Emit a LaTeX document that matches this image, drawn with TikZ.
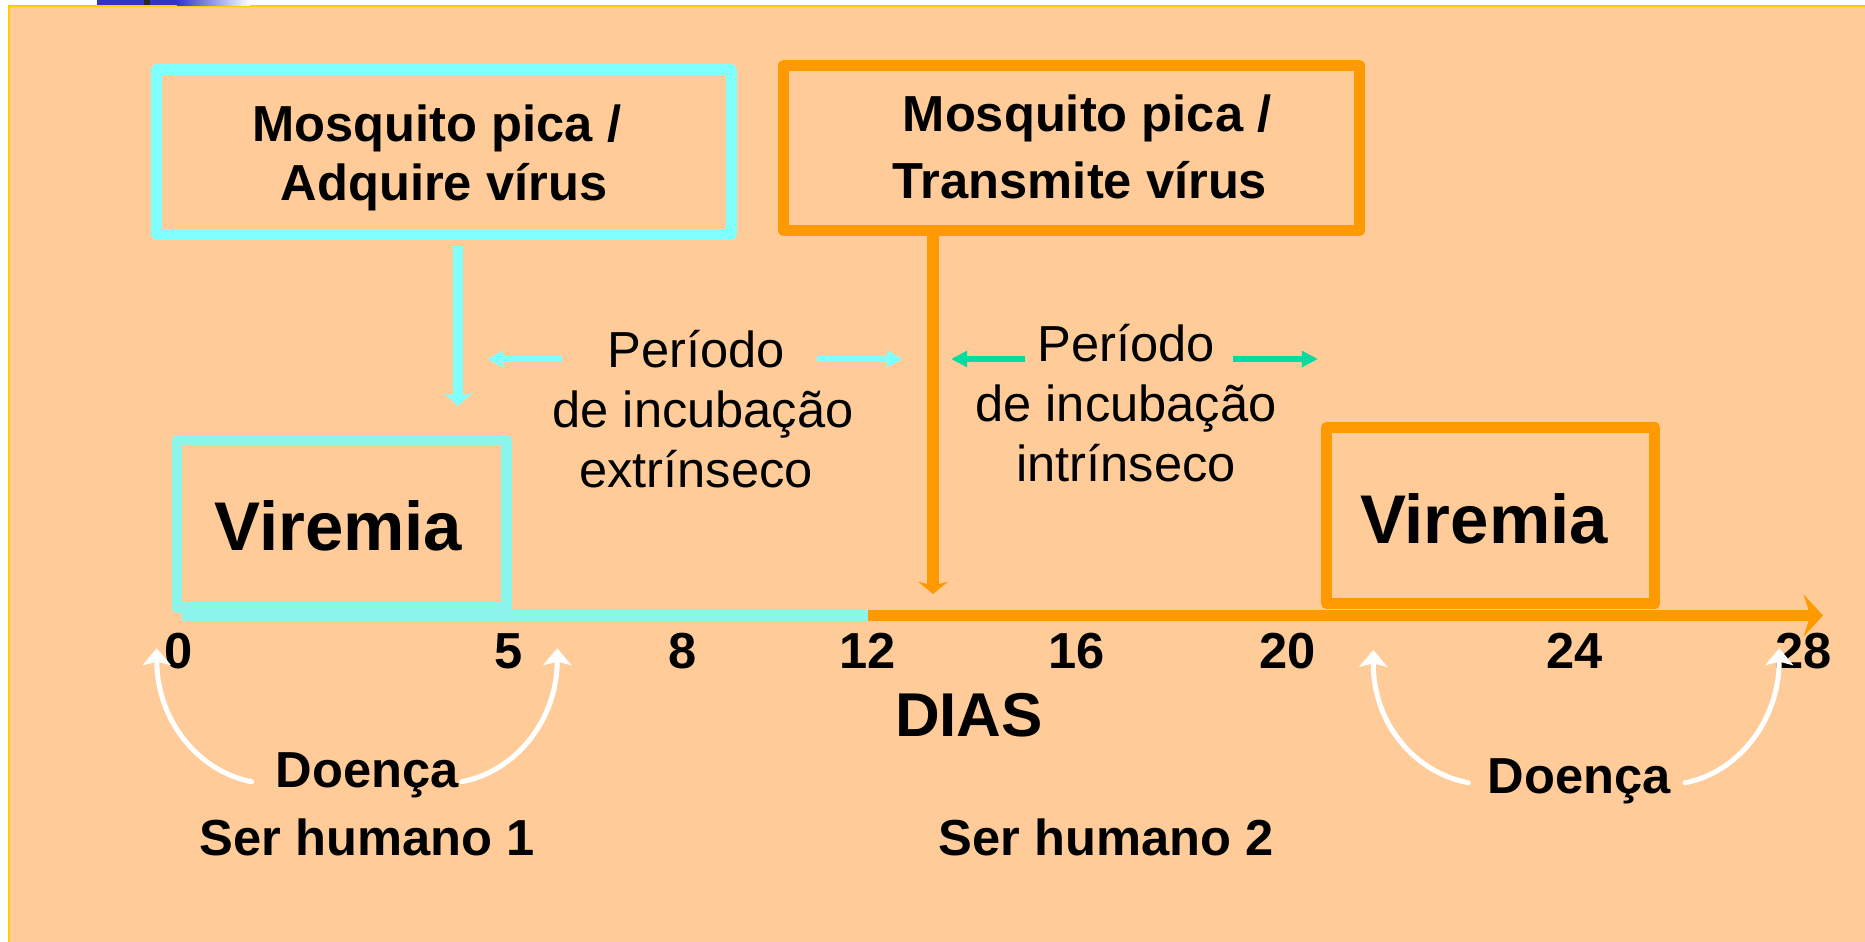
\documentclass[tikz,border=0pt]{standalone}
\usepackage{fontspec}
\setmainfont{Liberation Sans}
\usetikzlibrary{arrows.meta}
\definecolor{peach}{HTML}{FFCC99}
\definecolor{gold}{HTML}{FFCC00}
\definecolor{cyanA}{HTML}{80FFFF}
\definecolor{cyanB}{HTML}{8CF5EB}
\definecolor{orangeA}{HTML}{FF9900}
\definecolor{mint}{HTML}{00DDA0}
\definecolor{slideblue}{HTML}{3333CC}
\newcommand{\rowsof}[1]{\begin{tabular}[t]{@{}c@{}}#1\end{tabular}}
\begin{document}
\begin{tikzpicture}[x=0.01cm,y=-0.01cm,
  box/.style={draw, line width=3.1pt, line join=round, inner sep=0pt},
  bold/.style={font=\fontsize{14.4pt}{16.8pt}\selectfont\bfseries, anchor=base, inner sep=0pt},
  reg/.style={font=\fontsize{14.4pt}{17.07pt}\selectfont, anchor=base, inner sep=0pt},
  big/.style={font=\fontsize{19.6pt}{23pt}\selectfont\bfseries, anchor=base, inner sep=0pt},
  downarrow/.style={line width=2.85pt, -{Stealth[length=3.7pt,width=8pt,inset=1pt]}},
  periodarrow/.style={line width=1.7pt, -{Triangle[length=4.6pt,width=4.4pt]}},
  whitearrow/.style={white, line width=1.42pt, line cap=round, -{Stealth[length=4.8pt,width=8pt,inset=1pt]}},
]
% background
\useasboundingbox (0,0) rectangle (1865,942);
\fill[white] (0,0) rectangle (1865,942);
\fill[peach] (9,6) rectangle (1865,942);
\draw[gold, line width=0.6pt] (9,942) -- (9,6) -- (1865,6);
\fill[slideblue] (97,0) rectangle (177,5);
\shade[left color=slideblue, right color=white] (177,0) rectangle (250,5);
\fill[black!85] (144,0) rectangle (150,5);

% boxes
\node[box, draw=cyanA, minimum width=5.745cm, minimum height=1.645cm] (b1) at (444,152) {};
\node[box, draw=orangeA, minimum width=5.75cm, minimum height=1.647cm] (b2) at (1071.5,147.7) {};
\node[box, draw=cyanB, minimum width=3.297cm, minimum height=1.677cm] (v1) at (341.9,523.9) {};
\node[box, draw=orangeA, minimum width=3.282cm, minimum height=1.757cm] (v2) at (1490.6,515.65) {};

% box texts
\node[bold] (t1) at (444,141.7) {\rowsof{Mosquito pica /\hspace*{.28em}\\Adquire vírus}};
\node[bold, font=\fontsize{14.4pt}{18.95pt}\selectfont\bfseries] (t2) at (1080,131.7) {\rowsof{\hspace*{.28em}Mosquito pica /\\Transmite vírus}};
\node[big] (v1t) at (338.3,550.7) {Viremia};
\node[big] (v2t) at (1484,543.5) {Viremia};

% period texts
\node[reg] (p1) at (696,367) {\rowsof{Período\\\hspace*{.28em}de incubação\\extrínseco}};
\node[reg] (p2) at (1126,361) {\rowsof{Período\\de incubação\\intrínseco}};

% vertical arrows
\coordinate (a1tip) at (458,406);
\coordinate (a2tip) at (933,594);
\draw[downarrow, cyanA] ([yshift=-0.06cm]b1.south -| a1tip) -- (a1tip);
\draw[downarrow, orangeA, line width=3.2pt, -{Stealth[length=3.5pt,width=8.5pt,inset=1.1pt]}] (b2.south -| a2tip) -- (a2tip);

% timeline
\coordinate (t0) at (182,615.5);
\coordinate (t12) at (868,615.5);
\coordinate (tend) at (1823,615.5);
\draw[cyanB, line width=3.13pt] (t0) -- (t12);
\draw[orangeA, line width=2.85pt, -{Stealth[length=5.5pt,width=11.9pt,inset=1.9pt]}] (t12) -- (tend);

% period arrows
\coordinate (pa1s) at (562,359); \coordinate (pa1e) at (487,359);
\coordinate (pa2s) at (817,359); \coordinate (pa2e) at (903,359);
\coordinate (pb1s) at (1025,359); \coordinate (pb1e) at (951,359);
\coordinate (pb2s) at (1233,359); \coordinate (pb2e) at (1318,359);
\draw[periodarrow, cyanA] (pa1s) -- (pa1e);
\draw[periodarrow, cyanA] (pa2s) -- (pa2e);
\draw[periodarrow, mint] (pb1s) -- (pb1e);
\draw[periodarrow, mint] (pb2s) -- (pb2e);

% axis numbers
\foreach \x/\n in {179/0, 508.3/5, 683/8, 868/12, 1077/16, 1288/20, 1574.5/24, 1804/28}
  \node[bold] (n\n) at (\x,668) {\n};
\node[bold, font=\fontsize{17.6pt}{20pt}\selectfont\bfseries] (dias) at (969,736) {DIAS};

% bottom labels
\node[bold] (d1) at (367,787) {Doença};
\node[bold] (d2) at (1579,793) {Doença};
\node[bold] (s1) at (367,855) {Ser humano 1};
\node[bold] (s2) at (1106,855) {Ser humano 2};

% white curved arrows
\coordinate (w1s) at (251.7,781.7); \coordinate (w1e) at (156.7,648.3);
\coordinate (w2s) at (461.7,781.7); \coordinate (w2e) at (557.3,648.3);
\coordinate (w3s) at (1468.3,782.7); \coordinate (w3e) at (1373.3,650);
\coordinate (w4s) at (1685,782.7); \coordinate (w4e) at (1779.3,648.3);
\draw[whitearrow] (w1s) .. controls (200,772) and (157,722) .. (w1e);
\draw[whitearrow] (w2s) .. controls (514,772) and (557,722) .. (w2e);
\draw[whitearrow] (w3s) .. controls (1416,773) and (1373,725) .. (w3e);
\draw[whitearrow] (w4s) .. controls (1737,773) and (1779,722) .. (w4e);
\end{tikzpicture}
\end{document}
